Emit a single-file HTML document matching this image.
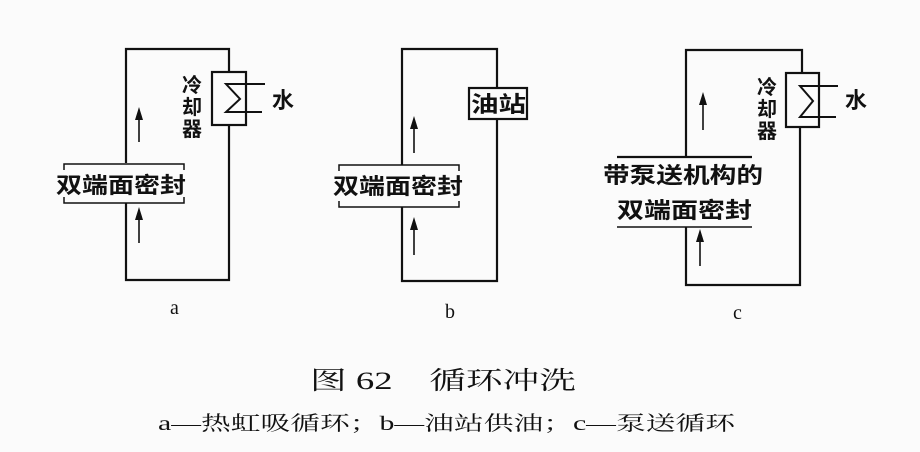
<!DOCTYPE html>
<html><head><meta charset="utf-8"><style>
html,body{margin:0;padding:0;background:#fff;}
svg{display:block}
.t text{font-family:"Liberation Sans","Noto Sans CJK SC",sans-serif;fill:#111;font-weight:bold;}
.s{font-family:"Liberation Serif","Noto Serif CJK SC",serif;fill:#111;}
</style></head><body>
<svg width="920" height="452" viewBox="0 0 920 452" xmlns="http://www.w3.org/2000/svg">
<rect width="920" height="452" fill="#fbfbfb"/>
<g stroke="#111" stroke-width="2.2" fill="none">
<!-- a -->
<polyline points="229,72 229,49 126,49 126,163"/>
<polyline points="126,203 126,280 229,280 229,125"/>
<rect x="212" y="72" width="34" height="53" fill="#fbfbfb"/>
<polyline points="265,84 226,84 240,99 226,112 262,112" stroke-width="2"/>
<path d="M64,170 V164 H184 V170 M64,197 V203 H184 V197" stroke-width="1.5"/>
<line x1="139" y1="142" x2="139" y2="118" stroke-width="1.6"/>
<line x1="139" y1="243" x2="139" y2="218" stroke-width="1.6"/>
<!-- b -->
<polyline points="497,88 497,49 402,49 402,165"/>
<polyline points="402,207 402,281 497,281 497,119"/>
<rect x="469" y="88" width="58" height="31" fill="#fbfbfb"/>
<path d="M339,171 V165 H459 V171 M339,201 V207 H459 V201" stroke-width="1.5"/>
<line x1="414" y1="153" x2="414" y2="127" stroke-width="1.6"/>
<line x1="414" y1="255" x2="414" y2="228" stroke-width="1.6"/>
<!-- c -->
<polyline points="802,73 802,50 686,50 686,157"/>
<polyline points="686,227 686,285 800,285 800,127"/>
<rect x="786" y="73" width="33" height="54" fill="#fbfbfb"/>
<polyline points="838,86 800,86 813,101 800,117 836,117" stroke-width="2"/>
<line x1="617" y1="157" x2="752" y2="157"/>
<line x1="617" y1="227" x2="752" y2="227" stroke-width="1.5"/>
<line x1="703" y1="130" x2="703" y2="103" stroke-width="1.6"/>
<line x1="700" y1="266" x2="700" y2="240" stroke-width="1.6"/>
</g>
<g fill="#111">
<polygon points="139,107 135,120 143,120"/>
<polygon points="139,207 135,220 143,220"/>
<polygon points="414,116 410,129 418,129"/>
<polygon points="414,217 410,230 418,230"/>
<polygon points="703,92 699,105 707,105"/>
<polygon points="700,229 696,242 704,242"/>
</g>
<g class="t">
<text x="182" y="92" font-size="20">冷</text>
<text x="182" y="114" font-size="20">却</text>
<text x="182" y="136" font-size="20">器</text>
<text x="272" y="108" font-size="22">水</text>
<text x="56" y="193" font-size="22" textLength="130" lengthAdjust="spacingAndGlyphs">双端面密封</text>
<text x="471" y="112" font-size="22" textLength="55" lengthAdjust="spacingAndGlyphs">油站</text>
<text x="333" y="194" font-size="22" textLength="130" lengthAdjust="spacingAndGlyphs">双端面密封</text>
<text x="757" y="94" font-size="20">冷</text>
<text x="757" y="116" font-size="20">却</text>
<text x="757" y="138" font-size="20">器</text>
<text x="845" y="108" font-size="22">水</text>
<text x="603" y="183" font-size="22" textLength="160" lengthAdjust="spacingAndGlyphs">带泵送机构的</text>
<text x="617" y="218" font-size="22" textLength="135" lengthAdjust="spacingAndGlyphs">双端面密封</text>
</g>
<text class="s" x="170" y="314" font-size="20">a</text>
<text class="s" x="445" y="318" font-size="20">b</text>
<text class="s" x="733" y="319" font-size="20">c</text>
<text class="s" x="310" y="389" font-size="25" textLength="266" lengthAdjust="spacingAndGlyphs">图 62　循环冲洗</text>
<text class="s" x="158" y="430" font-size="20" textLength="577" lengthAdjust="spacingAndGlyphs">a—热虹吸循环；b—油站供油；c—泵送循环</text>
</svg>
</body></html>
